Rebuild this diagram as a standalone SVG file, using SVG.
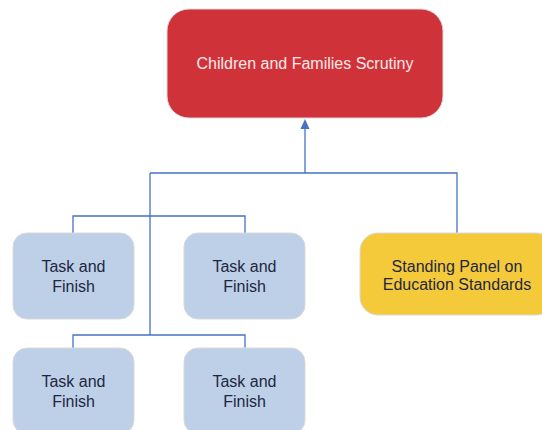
<svg xmlns="http://www.w3.org/2000/svg" width="542" height="430" viewBox="0 0 542 430">
<style>
.node{stroke:#d9d9d9;stroke-width:1}
.task{fill:#bdd0e8}
.lbl{font-family:"Liberation Sans",Arial,sans-serif;font-size:16px;text-anchor:middle;fill:#1f2740}
.conn{fill:none;stroke:#4472c4;stroke-width:1.3}
</style>
<rect width="542" height="430" fill="#ffffff"/>
<g id="connectors">
<path class="conn" d="M305,173 L305,127" stroke-width="2"/>
<polygon points="305,119 300.5,129 309.5,129" fill="#4472c4"/>
<path class="conn" d="M150,173 L457,173 L457,233"/>
<path class="conn" d="M150,173 L150,335"/>
<path class="conn" d="M73,233 L73,216 L245,216 L245,233"/>
<path class="conn" d="M73,348 L73,335 L245,335 L245,348"/>
</g>
<g id="scrutiny">
<rect class="node" x="167" y="9" width="276" height="109" rx="22" fill="#d0323a"/>
<text class="lbl" x="305" y="69" style="fill:#fbe9e9">Children and Families Scrutiny</text>
</g>
<g id="task1">
<rect class="node task" x="13" y="233" width="121" height="86" rx="14"/>
<text class="lbl" x="73.5" y="272">Task and</text>
<text class="lbl" x="73.5" y="292">Finish</text>
</g>
<g id="task2">
<rect class="node task" x="184" y="233" width="121" height="86" rx="14"/>
<text class="lbl" x="244.5" y="272">Task and</text>
<text class="lbl" x="244.5" y="292">Finish</text>
</g>
<g id="task3">
<rect class="node task" x="13" y="348" width="121" height="86" rx="14"/>
<text class="lbl" x="73.5" y="387">Task and</text>
<text class="lbl" x="73.5" y="407">Finish</text>
</g>
<g id="task4">
<rect class="node task" x="184" y="348" width="121" height="86" rx="14"/>
<text class="lbl" x="244.5" y="387">Task and</text>
<text class="lbl" x="244.5" y="407">Finish</text>
</g>
<g id="standing">
<rect class="node" x="360" y="233" width="194" height="82" rx="18" fill="#f4ca3b"/>
<text class="lbl" x="457" y="272">Standing Panel on</text>
<text class="lbl" x="457" y="290">Education Standards</text>
</g>
</svg>
